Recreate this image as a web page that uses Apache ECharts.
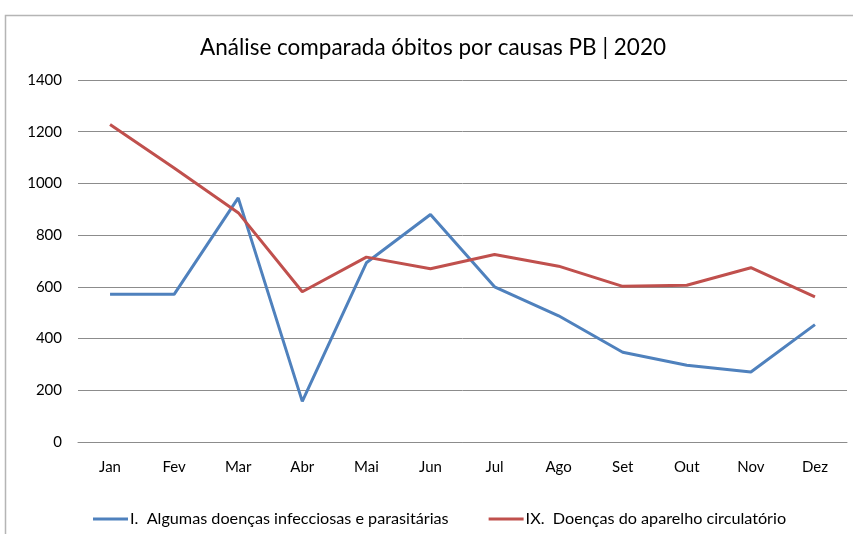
<!DOCTYPE html>
<html>
<head>
<meta charset="utf-8">
<script src="https://cdn.jsdelivr.net/npm/echarts@6/dist/echarts.min.js"></script>
<style>
  html, body { margin: 0; padding: 0; background: #fff; }
  #chart { width: 853px; height: 534px; }
</style>
</head>
<body>
<div id="chart"></div>
<script>
// dados
var meses = ['Jan', 'Fev', 'Mar', 'Abr', 'Mai', 'Jun', 'Jul', 'Ago', 'Set', 'Out', 'Nov', 'Dez'];
var infecciosas = [571, 571, 944, 157, 693, 880, 600, 488, 347, 297, 271, 454];
var circulatorio = [1228, 1060, 887, 581, 715, 670, 725, 680, 602, 606, 674, 561];

var nomeInfecciosas = 'I.  Algumas doenças infecciosas e parasitárias';
var nomeCirculatorio = 'IX.  Doenças do aparelho circulatório';

var fonte = 'Lato, "Noto Sans", sans-serif';

var chart = echarts.init(document.getElementById('chart'));

chart.setOption({
  backgroundColor: '#fff',
  animation: false,
  title: {
    text: 'Análise comparada óbitos por causas PB | 2020',
    left: 195,
    top: 31,
    textStyle: { fontFamily: fonte, fontSize: 22.5, fontWeight: 'normal', color: '#000' }
  },
  graphic: [{
    type: 'rect',
    shape: { x: 5.5, y: 15.5, width: 900, height: 600 },
    style: { fill: 'none', stroke: '#b5b5b5', lineWidth: 1.5 }
  }],
  legend: {
    left: 88,
    top: 506,
    itemWidth: 35,
    itemHeight: 3,
    itemGap: 40,
    icon: 'rect',
    textStyle: { fontFamily: fonte, fontSize: 16.2, color: '#000', padding: [0, 0, 0, -3] },
    data: [nomeInfecciosas, nomeCirculatorio]
  },
  grid: { left: 78, right: 6, top: 80, bottom: 92 },
  xAxis: {
    type: 'category',
    data: meses,
    boundaryGap: true,
    axisLine: { show: true, lineStyle: { color: '#8c8c8c', width: 1 } },
    axisTick: { show: false },
    axisLabel: { fontFamily: fonte, fontSize: 15, color: '#000', margin: 18 }
  },
  yAxis: {
    type: 'value',
    min: 0,
    max: 1400,
    interval: 200,
    axisLine: { show: false },
    axisTick: { show: false },
    axisLabel: {
      fontFamily: fonte, fontSize: 15, color: '#000', margin: 16,
      formatter: function (v) { return String(v); }
    },
    splitLine: { lineStyle: { color: '#8c8c8c', width: 1 } }
  },
  series: [{
    name: nomeInfecciosas,
    type: 'line',
    data: infecciosas,
    symbol: 'none',
    lineStyle: { color: '#4f81bd', width: 3 },
    itemStyle: { color: '#4f81bd' }
  }, {
    name: nomeCirculatorio,
    type: 'line',
    data: circulatorio,
    symbol: 'none',
    lineStyle: { color: '#c0504d', width: 3 },
    itemStyle: { color: '#c0504d' }
  }]
});
</script>
</body>
</html>
